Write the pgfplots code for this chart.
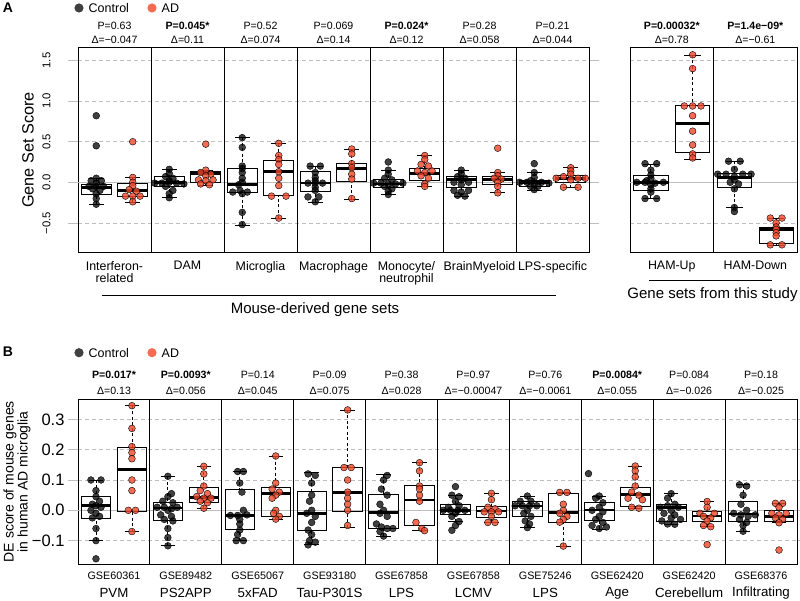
\documentclass[border=0pt]{standalone}
\usepackage{fontspec}
\setmainfont{Liberation Sans}
\usepackage{pgfplots}
\pgfplotsset{compat=1.18}
\usepackage{pgfplotstable}
\usepgfplotslibrary{statistics}
\definecolor{adc}{RGB}{240,70,40}
\definecolor{gridc}{RGB}{190,190,190}
\newcommand\fs[1]{\fontsize{#1}{#1}\selectfont}

% ---------- box statistics ----------
\pgfplotstableread{
pos lw lq med uq uw
0.25 -0.27 -0.144 -0.066 -0.025 0.05
0.75 -0.246 -0.177 -0.10 -0.016 0.06
1.25 -0.19 -0.053 -0.005 0.07 0.16
1.75 -0.033 0.0 0.107 0.13 0.15
2.25 -0.525 -0.123 -0.03 0.168 0.554
2.75 -0.443 -0.164 0.131 0.267 0.48
3.25 -0.246 -0.115 -0.01 0.14 0.2
3.75 -0.205 0.012 0.168 0.234 0.41
4.25 -0.148 -0.062 -0.02 0.041 0.152
4.75 -0.053 0.029 0.107 0.168 0.333
5.25 -0.168 -0.066 0.037 0.07 0.152
5.75 -0.127 -0.02 0.037 0.078 0.119
6.25 -0.094 -0.053 0.0 0.029 0.119
6.75 -0.066 -0.004 0.049 0.086 0.18
}\Abox
\pgfplotstableread{
pos lw lq med uq uw
0.25 -0.197 -0.099 -0.004 0.086 0.226
0.75 0.283 0.374 0.722 0.944 1.568
1.25 -0.312 -0.066 0.062 0.115 0.259
1.75 -0.776 -0.747 -0.579 -0.554 -0.439
}\Rbox
\pgfplotstableread{
pos lw lq med uq uw
0.25 -0.1 -0.026 0.015 0.046 0.1
0.75 -0.07 -0.004 0.135 0.208 0.345
1.25 -0.117 -0.033 0.007 0.025 0.112
1.75 0.007 0.026 0.042 0.075 0.145
2.25 -0.1 -0.063 -0.017 0.069 0.128
2.75 -0.029 -0.02 0.056 0.077 0.179
3.25 -0.114 -0.066 -0.011 0.062 0.125
3.75 -0.057 -0.002 0.058 0.141 0.331
4.25 -0.085 -0.059 -0.007 0.052 0.117
4.75 -0.067 -0.05 0.034 0.083 0.157
5.25 -0.037 -0.013 -0.001 0.02 0.048
5.75 -0.04 -0.023 -0.002 0.012 0.056
6.25 -0.057 -0.021 0.014 0.031 0.047
6.75 -0.118 -0.039 -0.007 0.056 0.059
7.25 -0.062 -0.033 0.001 0.026 0.047
7.75 0.007 0.013 0.052 0.076 0.146
8.25 -0.046 -0.037 0.009 0.02 0.055
8.75 -0.054 -0.035 -0.019 -0.003 0.029
9.25 -0.069 -0.037 -0.012 0.03 0.084
9.75 -0.041 -0.035 -0.021 0.001 0.023
}\Bbox

% ---------- points ----------
\pgfplotstableread{
x y
0.25 0.82
0.25 0.45
0.25 0.05
0.18 0.02
0.32 0.02
0.25 -0.01
0.15 -0.05
0.25 -0.05
0.35 -0.05
0.2 -0.08
0.3 -0.1
0.25 -0.14
0.25 -0.2
0.25 -0.27
1.25 0.16
1.25 0.11
1.2 0.07
1.3 0.05
1.25 0.02
1.05 -0.01
1.15 -0.01
1.25 0.0
1.35 -0.01
1.45 -0.02
1.2 -0.05
1.3 -0.1
1.25 -0.14
1.25 -0.19
2.25 0.55
2.25 0.43
2.25 0.2
2.25 0.17
2.25 0.12
2.25 0.05
2.25 0.0
2.2 -0.03
2.12 -0.12
2.22 -0.1
2.32 -0.12
2.25 -0.14
2.25 -0.37
2.25 -0.52
3.18 0.2
3.32 0.2
3.25 0.12
3.25 0.06
3.25 0.02
3.15 -0.01
3.25 -0.01
3.35 -0.01
3.25 -0.06
3.25 -0.1
3.15 -0.18
3.3 -0.18
3.25 -0.24
4.25 0.25
4.25 0.15
4.25 0.1
4.2 0.05
4.3 0.03
4.05 -0.01
4.15 -0.01
4.25 -0.02
4.35 -0.02
4.45 -0.01
4.2 -0.05
4.3 -0.08
4.25 -0.11
4.25 -0.15
5.25 0.15
5.25 0.11
5.2 0.07
5.3 0.05
5.25 0.03
5.15 0.0
5.35 0.0
5.25 -0.03
5.15 -0.1
5.35 -0.1
5.25 -0.12
5.2 -0.16
5.3 -0.17
6.25 0.23
6.25 0.12
6.25 0.06
6.2 0.02
6.05 0.0
6.15 0.0
6.35 0.0
6.45 -0.01
6.25 -0.02
6.2 -0.05
6.3 -0.05
6.25 -0.09
}\Actrl
\pgfplotstableread{
x y
0.75 0.5
0.75 0.06
0.75 0.0
0.75 -0.04
0.70 -0.09
0.80 -0.11
0.65 -0.17
0.75 -0.17
0.85 -0.17
0.75 -0.24
1.75 0.47
1.75 0.15
1.68 0.12
1.82 0.1
1.75 0.08
1.65 0.03
1.75 0.02
1.85 0.03
1.68 -0.02
1.8 -0.03
2.75 0.48
2.75 0.33
2.75 0.28
2.75 0.22
2.75 0.13
2.75 0.05
2.75 -0.04
2.65 -0.17
2.85 -0.17
2.75 -0.44
3.75 0.41
3.75 0.35
3.75 0.23
3.75 0.18
3.75 0.1
3.75 0.04
3.75 -0.2
4.75 0.33
4.75 0.28
4.7 0.22
4.8 0.2
4.65 0.14
4.75 0.12
4.85 0.14
4.7 0.08
4.8 0.05
4.75 -0.02
4.75 -0.05
5.75 0.42
5.75 0.12
5.75 0.08
5.7 0.05
5.8 0.04
5.75 0.0
5.75 -0.05
5.75 -0.13
6.75 0.18
6.75 0.14
6.75 0.1
6.65 0.07
6.55 0.05
6.85 0.05
6.95 0.05
6.75 0.03
6.65 -0.06
6.85 -0.06
}\Aad
\pgfplotstableread{
x y
0.18 0.23
0.32 0.23
0.25 0.15
0.25 0.09
0.25 0.05
0.2 0.02
0.08 0.0
0.18 0.0
0.3 -0.01
0.4 0.0
0.25 -0.03
0.25 -0.08
0.25 -0.12
0.18 -0.2
0.32 -0.2
1.18 0.26
1.32 0.26
1.25 0.16
1.05 0.1
1.15 0.1
1.35 0.1
1.45 0.1
1.25 0.07
1.25 0.03
1.2 0.0
1.3 -0.02
1.25 -0.08
1.25 -0.31
1.25 -0.36
}\Rctrl
\pgfplotstableread{
x y
0.75 1.57
0.75 1.4
0.65 0.94
0.75 0.94
0.85 0.94
0.75 0.82
0.75 0.63
0.75 0.46
0.75 0.35
0.75 0.3
1.68 -0.44
1.82 -0.44
1.75 -0.5
1.75 -0.55
1.75 -0.58
1.75 -0.62
1.75 -0.66
1.68 -0.77
1.82 -0.77
}\Rad
\pgfplotstableread{
x y
0.18 0.1
0.32 0.1
0.25 0.065
0.25 0.045
0.3 0.03
0.2 0.02
0.25 0.015
0.32 0.01
0.18 0.0
0.25 -0.01
0.3 -0.02
0.2 -0.025
0.25 -0.06
0.25 -0.1
0.25 -0.16
1.25 0.112
1.3 0.055
1.25 0.045
1.18 0.03
1.32 0.025
1.1 0.01
1.2 0.01
1.3 0.005
1.38 0.01
1.25 0.0
1.15 -0.015
1.3 -0.02
1.2 -0.03
1.32 -0.035
1.25 -0.06
1.25 -0.09
1.25 -0.117
2.22 0.128
2.3 0.128
2.25 0.09
2.28 0.06
2.3 0.0
2.12 -0.017
2.22 -0.017
2.35 -0.015
2.25 -0.03
2.25 -0.045
2.25 -0.065
2.22 -0.08
2.2 -0.1
2.3 -0.1
3.2 0.12
3.3 0.115
3.25 0.09
3.25 0.05
3.22 0.03
3.25 0.0
3.18 -0.01
3.3 -0.02
3.25 -0.04
3.2 -0.065
3.25 -0.08
3.22 -0.1
3.3 -0.105
3.2 -0.114
4.3 0.115
4.25 0.1
4.22 0.07
4.3 0.05
4.2 0.02
4.25 0.0
4.2 -0.01
4.3 -0.02
4.15 -0.045
4.22 -0.055
4.3 -0.06
4.38 -0.06
4.2 -0.07
4.25 -0.085
5.25 0.078
5.2 0.05
5.3 0.045
5.25 0.03
5.15 0.01
5.3 0.015
5.08 0.0
5.18 0.0
5.28 0.0
5.38 0.0
5.25 -0.01
5.2 -0.02
5.3 -0.037
5.25 -0.05
5.2 -0.066
6.25 0.047
6.15 0.03
6.3 0.03
6.08 0.015
6.18 0.015
6.28 0.015
6.38 0.015
6.25 0.0
6.2 -0.01
6.3 -0.02
6.22 -0.035
6.28 -0.045
6.25 -0.057
7.1 0.121
7.25 0.047
7.2 0.04
7.3 0.025
7.25 0.01
7.15 0.0
7.3 -0.005
7.25 -0.02
7.2 -0.03
7.3 -0.04
7.15 -0.05
7.25 -0.06
7.35 -0.055
8.25 0.055
8.2 0.04
8.3 0.02
8.1 0.01
8.2 0.015
8.35 0.01
8.25 0.0
8.15 -0.01
8.3 -0.015
8.25 -0.025
8.12 -0.035
8.38 -0.03
8.2 -0.045
8.3 -0.046
9.2 0.084
9.3 0.08
9.25 0.05
9.22 0.02
9.3 0.0
9.12 -0.01
9.22 -0.015
9.32 -0.02
9.42 -0.015
9.2 -0.03
9.3 -0.04
9.25 -0.05
9.25 -0.069
}\Bctrl
\pgfplotstableread{
x y
0.75 0.345
0.75 0.27
0.75 0.21
0.75 0.19
0.75 0.17
0.75 0.1
0.75 0.065
0.7 0.0
0.8 0.0
0.75 -0.07
1.75 0.145
1.75 0.12
1.75 0.08
1.7 0.065
1.8 0.055
1.65 0.045
1.75 0.04
1.85 0.04
1.7 0.03
1.8 0.025
1.75 0.007
2.75 0.179
2.75 0.09
2.7 0.07
2.8 0.06
2.75 0.05
2.7 0.04
2.75 0.0
2.72 -0.01
2.8 -0.02
2.75 -0.029
3.75 0.331
3.7 0.141
3.8 0.141
3.75 0.1
3.75 0.06
3.75 0.04
3.75 0.02
3.75 0.0
3.75 -0.05
4.75 0.157
4.75 0.13
4.75 0.08
4.75 0.07
4.75 0.05
4.75 0.03
4.7 -0.04
4.78 -0.06
4.82 -0.067
5.75 0.056
5.75 0.035
5.7 0.01
5.8 0.005
5.65 -0.005
5.75 -0.005
5.85 -0.005
5.75 -0.02
5.7 -0.04
5.8 -0.04
6.7 0.059
6.8 0.059
6.75 0.02
6.75 0.0
6.7 -0.01
6.8 -0.02
6.75 -0.03
6.7 -0.039
6.75 -0.118
7.75 0.146
7.75 0.13
7.75 0.11
7.75 0.08
7.7 0.06
7.8 0.05
7.65 0.04
7.85 0.035
7.7 0.01
7.8 0.007
8.75 0.029
8.75 0.01
8.65 -0.01
8.85 -0.01
8.7 -0.02
8.8 -0.025
8.75 -0.035
8.7 -0.05
8.8 -0.054
8.75 -0.113
9.7 0.023
9.8 0.023
9.75 0.01
9.65 -0.01
9.75 -0.015
9.85 -0.01
9.7 -0.025
9.8 -0.03
9.75 -0.041
9.75 -0.131
}\Bad

\pgfplotsset{
  panelbase/.style={scale only axis, clip=false, xtick=\empty,
    axis line style={black, line width=0.9pt},
    ymajorgrids, major grid style={gridc, dash pattern=on 4pt off 3pt, line width=0.8pt},
    tick align=outside, major tick length=10pt, ytick style={gridc, line width=0.8pt},
    yticklabel style={text=black}},
  boxplot/draw direction=y,
  boxplot/draw/lower whisker/.code={%
    \draw[black, line width=0.8pt, dash pattern=on 3pt off 2.5pt]
      (boxplot box cs:\pgfplotsboxplotvalue{lower whisker},0.5) --
      (boxplot box cs:\pgfplotsboxplotvalue{lower quartile},0.5);
    \draw[black, line width=0.8pt]
      (boxplot whisker cs:\pgfplotsboxplotvalue{lower whisker},0) --
      (boxplot whisker cs:\pgfplotsboxplotvalue{lower whisker},1);},
  boxplot/draw/upper whisker/.code={%
    \draw[black, line width=0.8pt, dash pattern=on 3pt off 2.5pt]
      (boxplot box cs:\pgfplotsboxplotvalue{upper whisker},0.5) --
      (boxplot box cs:\pgfplotsboxplotvalue{upper quartile},0.5);
    \draw[black, line width=0.8pt]
      (boxplot whisker cs:\pgfplotsboxplotvalue{upper whisker},0) --
      (boxplot whisker cs:\pgfplotsboxplotvalue{upper whisker},1);},
  boxplot/every median/.style={line width=2.6pt},
  ctrlpts/.style={only marks, mark=*, mark size=3.4pt, mark options={draw=none, fill=black, fill opacity=0.75}},
  adpts/.style={only marks, mark=*, mark size=3.4pt, mark options={draw=none, fill=adc, fill opacity=0.8}},
}
% one box from row #2 of table #1
\newcommand\bxrow[2]{%
  \pgfplotstablegetelem{#2}{pos}\of#1\edef\vpos{\pgfplotsretval}%
  \pgfplotstablegetelem{#2}{lw}\of#1\edef\vlw{\pgfplotsretval}%
  \pgfplotstablegetelem{#2}{lq}\of#1\edef\vlq{\pgfplotsretval}%
  \pgfplotstablegetelem{#2}{med}\of#1\edef\vmed{\pgfplotsretval}%
  \pgfplotstablegetelem{#2}{uq}\of#1\edef\vuq{\pgfplotsretval}%
  \pgfplotstablegetelem{#2}{uw}\of#1\edef\vuw{\pgfplotsretval}%
  \edef\bxcmd{\noexpand\addplot[black, line width=0.8pt,
    boxplot prepared={draw direction=y, draw position=\vpos, lower whisker=\vlw, lower quartile=\vlq,
      median=\vmed, upper quartile=\vuq, upper whisker=\vuw, box extend=0.41, whisker extend=0.2}]
    coordinates {};}%
  \bxcmd}
\newcommand\pv[5]{\node[font=\fs{10.6}, inner sep=0pt] at (#1pt,-#2pt) {#4};
  \node[font=\fs{10.6}, inner sep=0pt] at (#1pt,-#3pt) {#5};}

\begin{document}
\begin{tikzpicture}
\useasboundingbox (0pt,0pt) rectangle (800pt,-601pt);

% ================= Panel A left =================
\begin{axis}[panelbase, width=511pt, height=204.5pt, at={(78pt,-252pt)}, anchor=south west,
  xmin=0, xmax=7, ymin=-0.858, ymax=1.66,
  ytick={-0.5,0,0.5,1,1.5}, yticklabels={−0.5,0.0,0.5,1.0,1.5},
  yticklabel style={xshift=-14pt, rotate=90, anchor=south, font=\fs{11.3}}]
\addplot[gridc, line width=0.8pt] coordinates {(0,0) (7,0)};
\pgfplotsinvokeforeach{1,...,6}{\addplot[black, line width=0.9pt] coordinates {(#1,-0.858) (#1,1.66)};}
\pgfplotsinvokeforeach{0,...,13}{\bxrow{\Abox}{#1}}
\addplot[ctrlpts] table[x=x,y=y] {\Actrl};
\addplot[adpts] table[x=x,y=y] {\Aad};
\end{axis}

% ================= Panel A right =================
\begin{axis}[panelbase, width=167pt, height=204.5pt, at={(630pt,-252pt)}, anchor=south west,
  xmin=0, xmax=2, ymin=-0.858, ymax=1.66,
  ytick={-0.5,0,0.5,1,1.5}, yticklabels={}, major tick length=0pt]
\addplot[gridc, line width=0.8pt] coordinates {(0,0) (2,0)};
\addplot[black, line width=0.9pt] coordinates {(1,-0.858) (1,1.66)};
\pgfplotsinvokeforeach{0,...,3}{\bxrow{\Rbox}{#1}}
\addplot[ctrlpts] table[x=x,y=y] {\Rctrl};
\addplot[adpts] table[x=x,y=y] {\Rad};
\end{axis}

% ================= Panel B =================
\begin{axis}[panelbase, width=719pt, height=164.7pt, at={(78pt,-564pt)}, anchor=south west,
  xmin=0, xmax=10, ymin=-0.177, ymax=0.366,
  ytick={-0.1,0,0.1,0.2,0.3}, yticklabels={−0.1,0.0,0.1,0.2,0.3},
  yticklabel style={font=\fs{16.5}}]
\addplot[gridc, line width=0.8pt] coordinates {(0,0) (10,0)};
\pgfplotsinvokeforeach{1,...,9}{\addplot[black, line width=0.9pt] coordinates {(#1,-0.177) (#1,0.366)};}
\pgfplotsinvokeforeach{0,...,19}{\bxrow{\Bbox}{#1}}
\addplot[ctrlpts] table[x=x,y=y] {\Bctrl};
\addplot[adpts] table[x=x,y=y] {\Bad};
\end{axis}

% ================= annotations =================
\node[font=\fs{14}\bfseries, inner sep=0pt] at (8pt,-8pt) {A};
\node[font=\fs{14}\bfseries, inner sep=0pt] at (8pt,-352pt) {B};
\foreach \yy in {8,352.7}{
  \fill[black, opacity=0.75] (79pt,-\yy pt) circle (4.6pt);
  \node[font=\fs{12.5}, anchor=west, inner sep=0pt] at (88.5pt,-\yy pt) {Control};
  \fill[adc, opacity=0.8] (152pt,-\yy pt) circle (4.6pt);
  \node[font=\fs{12.5}, anchor=west, inner sep=0pt] at (161.5pt,-\yy pt) {AD};
}
% P-values panel A
\pv{114.5}{25.7}{40}{P=0.63}{Δ=−0.047}
\pv{187.5}{25.7}{40}{\textbf{P=0.045*}}{Δ=0.11}
\pv{260.5}{25.7}{40}{P=0.52}{Δ=0.074}
\pv{333.5}{25.7}{40}{P=0.069}{Δ=0.14}
\pv{406.5}{25.7}{40}{\textbf{P=0.024*}}{Δ=0.12}
\pv{479.5}{25.7}{40}{P=0.28}{Δ=0.058}
\pv{552.5}{25.7}{40}{P=0.21}{Δ=0.044}
\pv{671.8}{25.7}{40}{\textbf{P=0.00032*}}{Δ=0.78}
\pv{755.3}{25.7}{40}{\textbf{P=1.4e−09*}}{Δ=−0.61}
% x labels panel A
\foreach \xx/\lab in {114.5/{Interferon-\\related}, 187.5/DAM, 260.5/Microglia, 333.5/Macrophage,
  406.5/{Monocyte/\\neutrophil}, 479.5/BrainMyeloid, 552.5/LPS-specific, 671.8/HAM-Up, 755.3/HAM-Down}{
  \node[font=\fs{12.4}, align=center, anchor=north, inner sep=0pt] at (\xx pt,-261pt) {\lab};
}
\draw[black, line width=1.2pt] (102pt,-295.7pt) -- (555.7pt,-295.7pt);
\node[font=\fs{15}, inner sep=0pt] at (315pt,-310pt) {Mouse-derived gene sets};
\draw[black, line width=1.2pt] (649pt,-280.7pt) -- (771.7pt,-280.7pt);
\node[font=\fs{15}, inner sep=0pt] at (712.5pt,-294.3pt) {Gene sets from this study};
\node[font=\fs{16.3}, rotate=90, inner sep=0pt] at (28pt,-150pt) {Gene Set Score};
% panel B annotations
\pv{114}{375}{391}{\textbf{P=0.017*}}{Δ=0.13}
\pv{185.8}{375}{391}{\textbf{P=0.0093*}}{Δ=0.056}
\pv{257.7}{375}{391}{P=0.14}{Δ=0.045}
\pv{329.6}{375}{391}{P=0.09}{Δ=0.075}
\pv{401.5}{375}{391}{P=0.38}{Δ=0.028}
\pv{473.4}{375}{391}{P=0.97}{Δ=−0.00047}
\pv{545.3}{375}{391}{P=0.76}{Δ=−0.0061}
\pv{617.2}{375}{391}{\textbf{P=0.0084*}}{Δ=0.055}
\pv{689.1}{375}{391}{P=0.084}{Δ=−0.026}
\pv{761}{375}{391}{P=0.18}{Δ=−0.025}
\foreach \xx/\ga/\gb in {114/GSE60361/PVM, 185.8/GSE89482/PS2APP, 257.7/GSE65067/5xFAD,
  329.6/GSE93180/Tau-P301S, 401.5/GSE67858/LPS, 473.4/GSE67858/LCMV, 545.3/GSE75246/LPS,
  617.2/GSE62420/Age, 689.1/GSE62420/Cerebellum, 761/GSE68376/Infiltrating}{
  \node[font=\fs{10.8}, inner sep=0pt] at (\xx pt,-576pt) {\ga};
  \node[font=\fs{13.3}, inner sep=0pt] at (\xx pt,-593pt) {\gb};
}
\node[font=\fs{14}, rotate=90, inner sep=0pt, align=center] at (17pt,-481.7pt) {DE score of mouse genes\\in human AD microglia};
\end{tikzpicture}
\end{document}
